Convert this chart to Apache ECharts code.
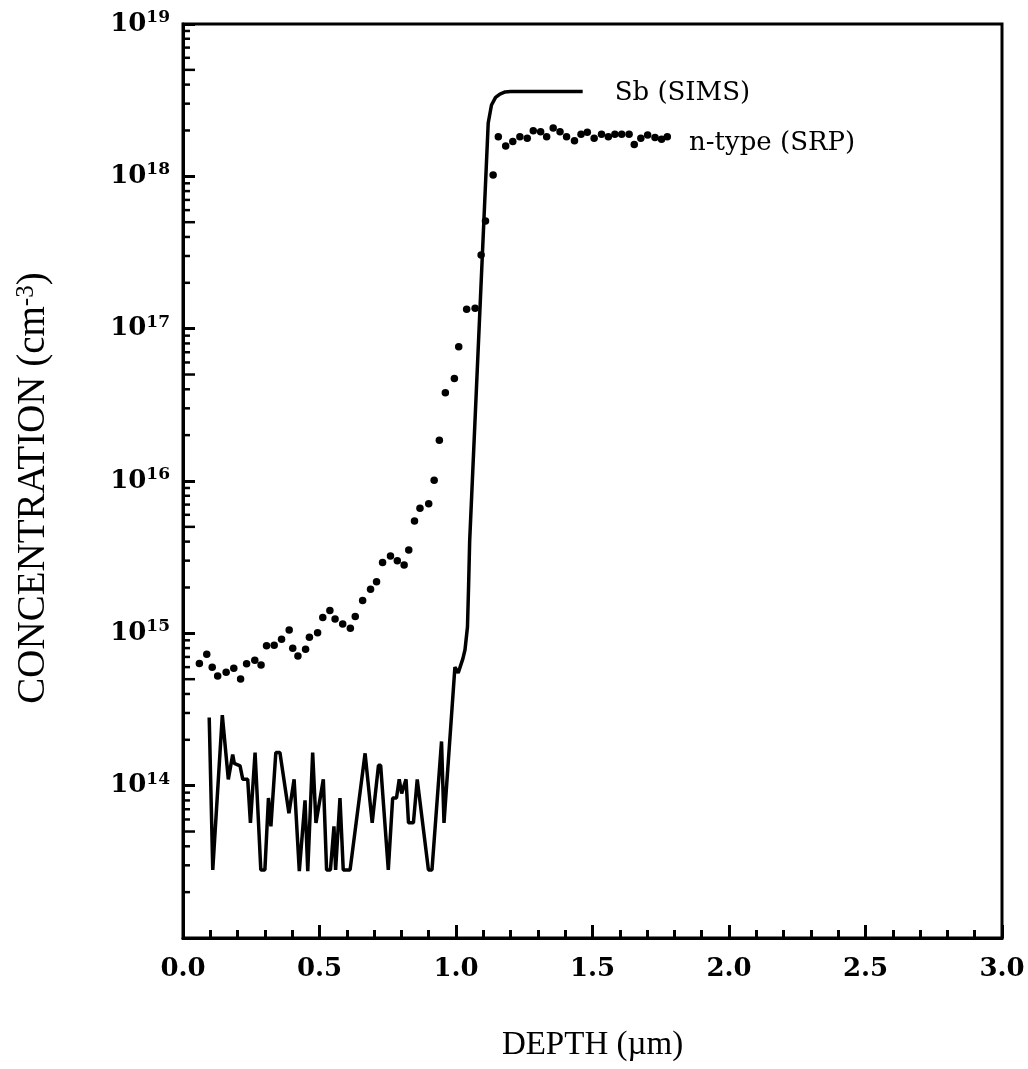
<!DOCTYPE html>
<html>
<head>
<meta charset="utf-8">
<script src="https://cdn.jsdelivr.net/npm/echarts@6/dist/echarts.min.js"></script>
<style>html,body{margin:0;padding:0;background:#fff;}#c{width:1028px;height:1069px;}</style>
</head>
<body>
<div id="c"></div>
<script>
// Sb (SIMS) profile: [depth um, concentration cm^-3]
const simsData = [
  [0.096,2.8e14],[0.109,2.8e13],[0.144,2.9e14],[0.166,1.1e14],[0.182,1.6e14],[0.188,1.4e14],
  [0.209,1.35e14],[0.219,1.1e14],[0.237,1.1e14],[0.247,5.7e13],[0.264,1.65e14],[0.285,2.8e13],
  [0.300,2.8e13],[0.313,8.3e13],[0.322,5.4e13],[0.340,1.65e14],[0.355,1.65e14],[0.388,6.6e13],
  [0.407,1.1e14],[0.426,2.75e13],[0.447,8.0e13],[0.457,2.75e13],[0.475,1.65e14],[0.487,5.7e13],
  [0.514,1.1e14],[0.526,2.8e13],[0.540,2.8e13],[0.553,5.4e13],[0.559,2.8e13],[0.575,8.3e13],
  [0.587,2.8e13],[0.612,2.8e13],[0.667,1.63e14],[0.693,5.7e13],[0.716,1.36e14],[0.724,1.36e14],
  [0.752,2.8e13],[0.768,8.3e13],[0.782,8.3e13],[0.792,1.1e14],[0.801,8.9e13],[0.817,1.1e14],
  [0.826,5.7e13],[0.844,5.7e13],[0.858,1.1e14],[0.899,2.8e13],[0.912,2.8e13],[0.947,1.95e14],
  [0.956,5.7e13],[0.996,6.0e14],[1.008,5.5e14],[1.025,6.8e14],[1.033,7.8e14],[1.042,1.1e15],
  [1.046,2.0e15],[1.050,4.0e15],[1.118,2.24e18],[1.130,2.94e18],[1.145,3.3e18],[1.161,3.47e18],
  [1.180,3.58e18],[1.200,3.6e18],[1.464,3.6e18]
];
// n-type (SRP) points: [depth um, concentration cm^-3]
const srpData = [
  [0.060,6.35e14],[0.087,7.28e14],[0.107,5.98e14],[0.127,5.25e14],[0.158,5.55e14],[0.186,5.89e14],
  [0.211,5.01e14],[0.233,6.32e14],[0.263,6.65e14],[0.286,6.19e14],[0.306,8.3e14],[0.334,8.34e14],
  [0.361,9.14e14],[0.389,1.05e15],[0.402,7.98e14],[0.421,7.1e14],[0.449,7.85e14],[0.463,9.42e14],
  [0.493,1.01e15],[0.512,1.27e15],[0.538,1.41e15],[0.557,1.24e15],[0.585,1.15e15],[0.613,1.08e15],
  [0.631,1.29e15],[0.658,1.64e15],[0.687,1.95e15],[0.709,2.18e15],[0.731,2.92e15],[0.760,3.22e15],
  [0.785,2.99e15],[0.810,2.81e15],[0.827,3.52e15],[0.848,5.46e15],[0.868,6.62e15],[0.900,7.1e15],
  [0.920,1.01e16],[0.939,1.85e16],[0.961,3.8e16],[0.994,4.7e16],[1.010,7.62e16],[1.039,1.34e17],
  [1.070,1.36e17],[1.092,3.05e17],[1.108,5.09e17],[1.136,1.02e18],[1.155,1.82e18],[1.182,1.58e18],
  [1.208,1.69e18],[1.234,1.82e18],[1.261,1.78e18],[1.283,1.99e18],[1.310,1.96e18],[1.332,1.82e18],
  [1.356,2.08e18],[1.381,1.96e18],[1.405,1.82e18],[1.434,1.71e18],[1.458,1.89e18],[1.481,1.95e18],
  [1.506,1.78e18],[1.533,1.89e18],[1.558,1.82e18],[1.582,1.89e18],[1.607,1.89e18],[1.634,1.89e18],
  [1.653,1.62e18],[1.677,1.78e18],[1.702,1.87e18],[1.729,1.80e18],[1.753,1.75e18],[1.774,1.82e18]
];
const seriesNames = ['Sb (SIMS)', 'n-type (SRP)'];
const xLabel = 'DEPTH (\u00b5m)';
const yLabel = 'CONCENTRATION (cm';
const yExpMin = 13, yExpMax = 19;
const minorMantissas = [2,3,4,5,6,7,8,9];

const minorTickData = [];
for (let e = yExpMin; e < yExpMax; e++) {
  minorMantissas.forEach(m => minorTickData.push([0, m * Math.pow(10, e), m === 5 ? 12 : 7]));
}

const serif = '"Liberation Serif", "DejaVu Serif", serif';
const labelSerif = '"DejaVu Serif", serif';
const chart = echarts.init(document.getElementById('c'), null, {renderer: 'canvas'});
const srpSeriesData = srpData.map((d, i) => i === srpData.length - 1
  ? {value: d, label: {show: true, position: 'right', distance: 18, offset: [0, 7], formatter: seriesNames[1],
      color: '#000', opacity: 1, fontFamily: labelSerif, fontSize: 26}}
  : d);

chart.setOption({
  backgroundColor: '#fff',
  animation: false,
  grid: {left: 183, right: 26, top: 24, bottom: 131, show: true, borderColor: '#000', borderWidth: 3, backgroundColor: 'transparent'},
  xAxis: {
    type: 'value', min: 0, max: 3, interval: 0.5,
    name: xLabel, nameLocation: 'middle', nameGap: 91,
    nameTextStyle: {fontFamily: serif, fontSize: 33, color: '#000'},
    axisLine: {show: true, lineStyle: {color: '#000', width: 3}},
    axisTick: {show: true, inside: true, length: 13, lineStyle: {color: '#000', width: 3}},
    minorTick: {show: true, splitNumber: 5, length: 8, lineStyle: {color: '#000', width: 3}},
    splitLine: {show: false},
    axisLabel: {margin: 18, color: '#000', fontFamily: labelSerif, fontWeight: 'bold', fontSize: 26,
      formatter: v => v.toFixed(1)}
  },
  yAxis: {
    type: 'log', logBase: 10, min: Math.pow(10, yExpMin), max: Math.pow(10, yExpMax), interval: 1,
    name: yLabel + '{sup|-3}{n|)}', nameLocation: 'middle', nameGap: 130, nameRotate: 90,
    nameTextStyle: {fontFamily: serif, fontSize: 39, color: '#000', padding: [0, 14, 0, 0],
      rich: {sup: {fontFamily: serif, fontSize: 25, verticalAlign: 'top', color: '#000', padding: [0,0,14,0]},
             n: {fontFamily: serif, fontSize: 39, color: '#000'}}},
    axisLine: {show: true, lineStyle: {color: '#000', width: 3}},
    axisTick: {show: true, inside: true, length: 12, lineStyle: {color: '#000', width: 3}},
    minorTick: {show: false},
    splitLine: {show: false},
    axisLabel: {margin: 13, color: '#000', showMinLabel: false,
      formatter: v => '{b|10}{s|' + Math.round(Math.log10(v)) + '}',
      rich: {
        b: {fontFamily: labelSerif, fontWeight: 'bold', fontSize: 26, color: '#000', lineHeight: 30},
        s: {fontFamily: labelSerif, fontWeight: 'bold', fontSize: 17, color: '#000', verticalAlign: 'top', lineHeight: 18}
      }}
  },
  series: [
    {
      type: 'custom', silent: true, clip: false, z: 3,
      data: minorTickData,
      renderItem: (params, api) => {
        const p = api.coord([0, api.value(1)]);
        return {type: 'line', shape: {x1: p[0], y1: p[1], x2: p[0] + api.value(2), y2: p[1]},
          style: {stroke: '#000', lineWidth: 2.5}};
      }
    },
    {
      name: seriesNames[0], type: 'line', data: simsData, showSymbol: false, symbol: 'none',
      lineStyle: {color: '#000', width: 3.5}, z: 4,
      endLabel: {show: true, formatter: seriesNames[0], distance: 32, color: '#000',
        fontFamily: labelSerif, fontSize: 26, offset: [0, 2]}
    },
    {
      name: seriesNames[1], type: 'scatter', data: srpSeriesData, symbol: 'circle', symbolSize: 7.5,
      itemStyle: {color: '#000', opacity: 1}, z: 5
    }
  ]
});
</script>
</body>
</html>
